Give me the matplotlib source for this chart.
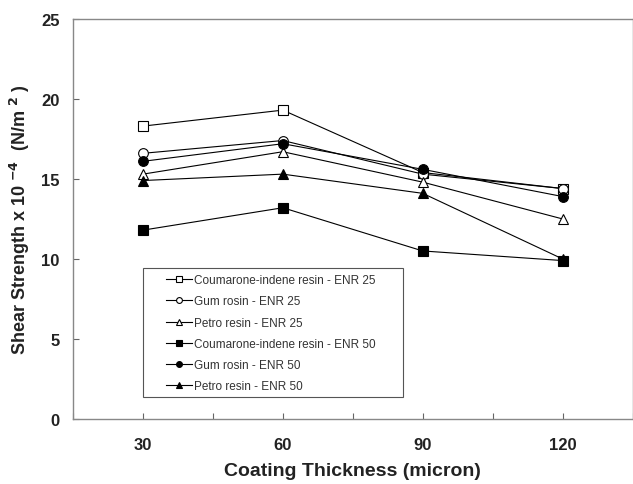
import matplotlib.pyplot as plt
from matplotlib.patches import Rectangle
import numpy as np

plt.rcParams['font.family'] = ['Liberation Sans', 'DejaVu Sans']

# 数据
thickness = [30, 60, 90, 120]
ci_enr25 = [18.3, 19.3, 15.4, 14.4]
gum_enr25 = [16.6, 17.4, 15.3, 14.4]
petro_enr25 = [15.3, 16.7, 14.8, 12.5]
ci_enr50 = [11.8, 13.2, 10.5, 9.9]
gum_enr50 = [16.1, 17.2, 15.6, 13.9]
petro_enr50 = [14.9, 15.3, 14.1, 10.0]

labels = ['Coumarone-indene resin - ENR 25', 'Gum rosin - ENR 25', 'Petro resin - ENR 25',
          'Coumarone-indene resin - ENR 50', 'Gum rosin - ENR 50', 'Petro resin - ENR 50']
series = [ci_enr25, gum_enr25, petro_enr25, ci_enr50, gum_enr50, petro_enr50]
markers = ['s', 'o', '^', 's', 'o', '^']
fills = ['white', 'white', 'white', 'black', 'black', 'black']

fig = plt.figure(figsize=(6.33, 4.85), dpi=100)
ax = fig.add_axes([0.1153, 0.134, 0.884, 0.825])

for vals, lab, m, fc in zip(series, labels, markers, fills):
    ax.plot(thickness, vals, color='black', lw=0.8, marker=m, markersize=7,
            markerfacecolor=fc, markeredgecolor='black', markeredgewidth=0.8, label=lab)

ax.set_xlim(15, 135)
ax.set_ylim(0, 25)
ax.set_xticks(np.arange(15, 136, 15))
ax.set_xticklabels(['' if t % 30 else str(t) for t in np.arange(15, 136, 15)])
ax.set_yticks([0, 5, 10, 15, 20, 25])

for sp in ax.spines.values():
    sp.set_color('#888888')
    sp.set_linewidth(1.0)

ax.tick_params(axis='x', direction='in', length=4, color='#666666', pad=13, labelsize=12)
ax.tick_params(axis='y', direction='in', length=4, color='#666666', pad=9.5, labelsize=12)
for t in ax.get_xticklabels() + ax.get_yticklabels():
    t.set_fontweight('bold')
    t.set_color('#222222')

ax.set_xlabel('Coating Thickness (micron)', fontsize=14, fontweight='bold', color='#222222')
ax.xaxis.set_label_coords(0.5, -0.108)
ax.set_ylabel('Shear Strength x 10 $^{\\mathbf{-4}}$  (N/m $^{\\mathbf{2}}$ )', fontsize=13,
              fontweight='bold', color='#222222')
ax.yaxis.set_label_coords(-0.073, 0.5)

# 图例（边框单独画）
leg = ax.legend(loc='lower left', bbox_to_anchor=(0.158, 0.055), fontsize=8.5,
                handlelength=2.2, markerscale=0.6, frameon=False,
                borderpad=0.4, borderaxespad=0, labelspacing=0.78, handletextpad=0.2)
for t in leg.get_texts():
    t.set_color('#333333')
ax.add_patch(Rectangle((0.125, 0.055), 0.464, 0.3225, transform=ax.transAxes,
                       facecolor='none', edgecolor='#555555', lw=0.8, zorder=0))

plt.savefig('out.png', dpi=100)
plt.close()
